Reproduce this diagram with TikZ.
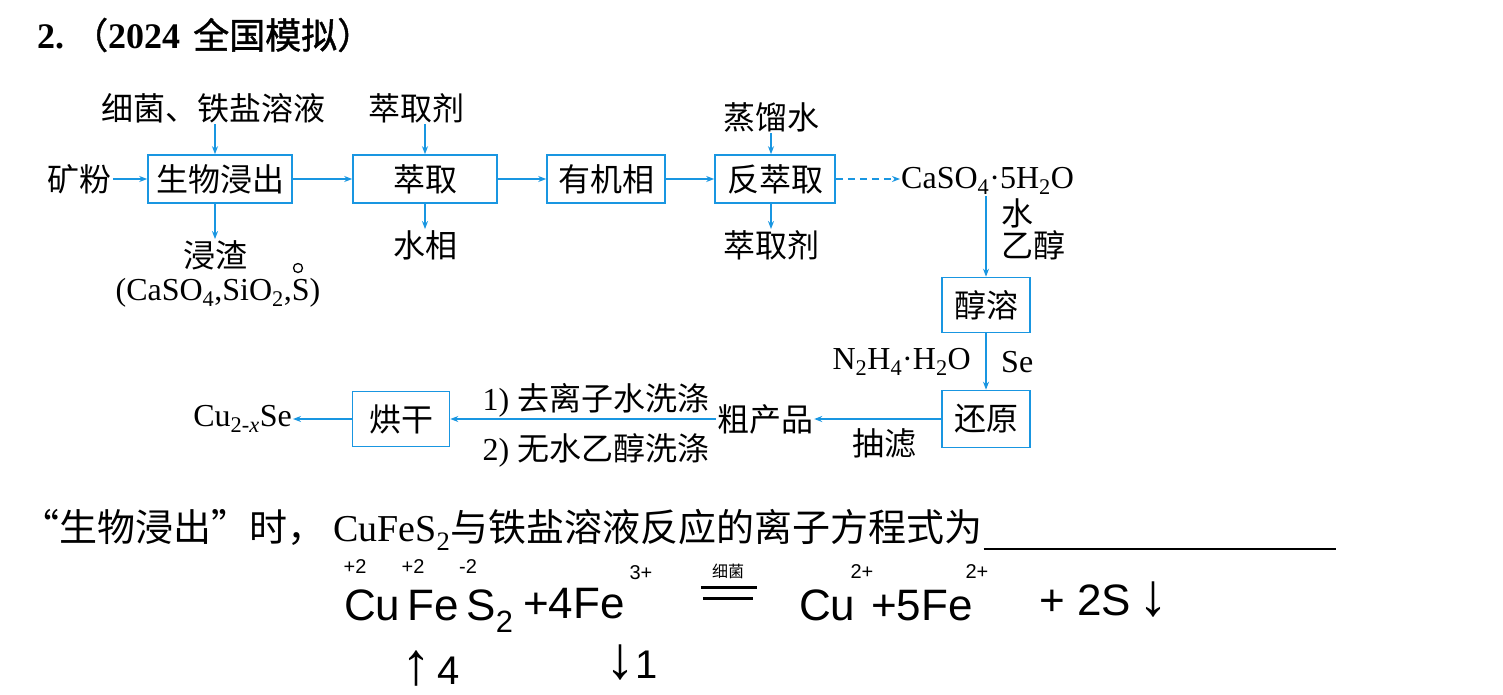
\documentclass[tikz,border=0pt]{standalone}
\usepackage{fontspec}
\setmainfont{Liberation Serif}
\newfontfamily\cjk{Noto Sans CJK SC}
\newfontfamily\cjkb[FakeBold=1.2]{Noto Sans CJK SC}
\newfontfamily\handf{Liberation Sans}
\usetikzlibrary{arrows.meta}
\definecolor{fblue}{RGB}{25,150,225}
\newcommand\zh[1]{{\cjk #1}}
\newcommand\bigarr[1]{{\fontsize{60}{60}\selectfont #1}}
\begin{document}
\begin{tikzpicture}[x=1pt,y=-1pt,
  every node/.style={inner sep=1pt, font=\fontsize{32}{38}\selectfont},
  pbox/.style={draw=fblue, line width=1.6pt, minimum height=48pt, inner sep=0pt},
  arr/.style={draw=fblue, line width=1.6pt, -{Stealth[length=8pt,width=6pt]}},
  hw/.style={font=\handf\fontsize{44}{48}\selectfont},
  hws/.style={font=\handf\fontsize{20}{22}\selectfont},
]
\useasboundingbox (0,0) rectangle (1503,694);

% title
\node[anchor=west, font=\fontsize{36}{40}\selectfont] (title) at (36,35) {\textbf{2.}\hspace{8pt}{\cjkb （}\textbf{2024}\hspace{4pt} {\cjkb 全国模拟）}};

% row 1
\node[pbox, minimum width=144pt] (b1) at (220,179) {\zh{生物浸出}};
\node[pbox, minimum width=144pt] (b2) at (425,179) {\zh{萃取}};
\node[pbox, minimum width=118pt] (b3) at (606,179) {\zh{有机相}};
\node[pbox, minimum width=120pt] (b4) at (775,179) {\zh{反萃取}};
\node[anchor=east] (ore) at (113,179) {\zh{矿粉}};
\draw[arr] (ore) -- (b1);

\node (in1) at (213,108) {\zh{细菌、铁盐溶液}};
\draw[arr] (in1.south -| 215,0) -- (b1.north -| 215,0);
\node (out1) at (215,255) {\zh{浸渣}};
\draw[arr] (b1.south -| out1) -- (out1.north);
\node (out1b) at (218,293) {(CaSO\textsubscript{4},SiO\textsubscript{2},S)};
\node[draw, circle, minimum size=9pt, line width=1.3pt, inner sep=0pt] (ox) at (298,268) {};

\draw[arr] (b1) -- (b2);
\node (in2) at (416,108) {\zh{萃取剂}};
\draw[arr] (in2.south -| b2.north) -- (b2.north);
\node (out2) at (425,245) {\zh{水相}};
\draw[arr] (b2.south) -- (b2.south |- out2.north);
\draw[arr] (b2) -- (b3);
\draw[arr] (b3) -- (b4);
\node (in4) at (771,117) {\zh{蒸馏水}};
\draw[arr] (in4.south) -- (in4.south |- b4.north);
\node (out4) at (771,245) {\zh{萃取剂}};
\draw[arr] (out4.north |- b4.south) -- (out4.north);

\node[anchor=west] (cs) at (900,181) {CaSO\textsubscript{4}·5H\textsubscript{2}O};
\draw[arr, dash pattern=on 7pt off 5pt] (b4) -- (b4.east -| cs.west);

\node[pbox, minimum width=88pt, minimum height=55pt] (b5) at (986,305) {\zh{醇溶}};
\draw[arr] (b5.north |- cs.south) -- (b5.north);
\node[anchor=west] (w1) at (1000,213) {\zh{水}};
\node[anchor=west] (w2) at (1000,245) {\zh{乙醇}};

\node[pbox, minimum width=88pt, minimum height=57pt] (b6) at (986,419) {\zh{还原}};
\draw[arr] (b5) -- (b6);
\node[anchor=east] (n2h4) at (972,362) {N\textsubscript{2}H\textsubscript{4}·H\textsubscript{2}O};
\node[anchor=west] (se) at (1000,362) {Se};

\node (crude) at (765,419) {\zh{粗产品}};
\draw[arr] (b6) -- (crude);
\node (filt) at (884,443) {\zh{抽滤}};
\node[pbox, minimum width=97pt, minimum height=55pt] (b7) at (401,419) {\zh{烘干}};
\draw[arr] (crude) -- (b7);
\node (w3) at (596,400) {1) \zh{去离子水洗涤}};
\node (w4) at (596,450) {2) \zh{无水乙醇洗涤}};
\node[anchor=east] (prod) at (293,419) {Cu\textsubscript{2-\textit{x}}Se};
\draw[arr] (b7) -- (prod);

% question
\node[anchor=west, font=\fontsize{38}{42}\selectfont] (q) at (20,530) {\zh{“生物浸出”时，}\hspace{8pt}CuFeS\textsubscript{2}\zh{与铁盐溶液反应的离子方程式为}};
\coordinate (ul2) at (1336,549);
\draw[line width=2pt] (q.east |- ul2) -- (ul2);

% handwriting
\node[hws] (o1) at (355,567) {+2};
\node[hws] (o2) at (413,567) {+2};
\node[hws] (o3) at (468,567) {-2};
\node[hw, anchor=base west] (h1) at (343,620) {Cu\,Fe\,S\textsubscript{2}};
\node[hw, anchor=base west] (h2) at (522,618) {+4Fe};
\node[hws] (h3) at (641,573) {3+};
\node[font=\cjk\fontsize{16}{18}\selectfont] (h4) at (728,571) {细菌};
\draw[line width=2.5pt] (h4.south west) ++(-10,8) -- ++(56,0);
\draw[line width=2.5pt] (h4.south west) ++(-8,19) -- ++(50,0);
\node[hw, anchor=base west] (h5) at (798,620) {Cu};
\node[hws] (h5s) at (862,572) {2+};
\node[hw, anchor=base west] (h6) at (870,620) {+5Fe};
\node[hws] (h6s) at (977,572) {2+};
\node[hw, anchor=base west] (h7) at (1038,615) {+ 2S\,\bigarr{↓}};
\node[hw, anchor=base west, font=\handf\fontsize{40}{44}\selectfont] (h8) at (400,684) {\bigarr{↑}\,4};
\node[hw, anchor=base west, font=\handf\fontsize{40}{44}\selectfont] (h9) at (604,678) {\bigarr{↓}1};
\end{tikzpicture}
\end{document}
